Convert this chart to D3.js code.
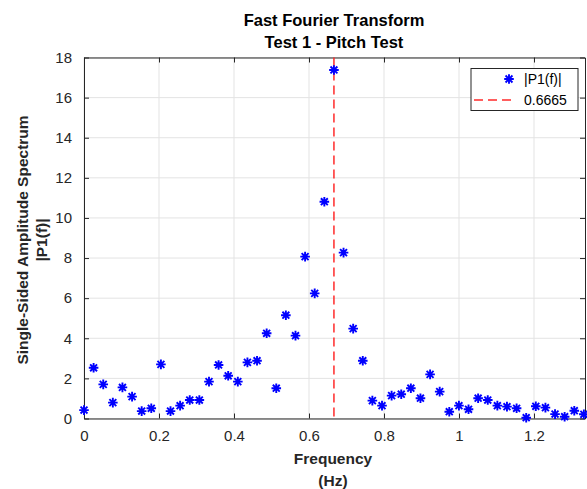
<!DOCTYPE html>
<html><head><meta charset="utf-8">
<script src="https://cdn.jsdelivr.net/npm/d3@7"></script>
<style>body{margin:0;background:#fff;} svg{display:block;font-family:"Liberation Sans",Arial,sans-serif;}</style>
</head><body>
<svg id="chart" width="587" height="489"></svg>
<script>
const freqs = [0,0.0256,0.0513,0.0769,0.1025,0.1282,0.1538,0.1794,0.2051,0.2307,0.2563,0.2820,0.3076,0.3333,0.3589,0.3845,0.4102,0.4358,0.4614,0.4871,0.5127,0.5383,0.5640,0.5896,0.6152,0.6409,0.6665,0.6921,0.7178,0.7434,0.7690,0.7947,0.8203,0.8460,0.8716,0.8972,0.9229,0.9485,0.9741,0.9998,1.0254,1.0510,1.0767,1.1023,1.1279,1.1536,1.1792,1.2048,1.2305,1.2561,1.2817,1.3074,1.3330];
const amps = [0.42,2.53,1.70,0.79,1.55,1.09,0.37,0.51,2.70,0.37,0.64,0.92,0.92,1.84,2.67,2.13,1.84,2.80,2.88,4.25,1.51,5.15,4.13,8.07,6.24,10.81,17.38,8.27,4.48,2.88,0.89,0.64,1.14,1.21,1.51,1.01,2.20,1.34,0.34,0.64,0.46,1.01,0.92,0.64,0.59,0.51,0.04,0.61,0.54,0.22,0.09,0.39,0.21];
const peakFreq = 0.6665;
const xTicks = [0,0.2,0.4,0.6,0.8,1,1.2];
const yTicks = [0,2,4,6,8,10,12,14,16,18];
const titleLines = ["Fast Fourier Transform","Test 1 - Pitch Test"];
const xLabelLines = ["Frequency","(Hz)"];
const yLabelLines = ["Single-Sided Amplitude Spectrum","|P1(f)|"];
const legendLabels = ["|P1(f)|","0.6665"];

const svg = d3.select("#chart");
const L=84, R=585, T=57.5, B=418.5;
const x = d3.scaleLinear().domain([0,1.336]).range([L,R]);
const y = d3.scaleLinear().domain([0,18]).range([B,T]);
const axisCol = "#262626";

// grid
const g = svg.append("g");
g.selectAll(".gx").data(xTicks).join("line")
  .attr("x1",d=>x(d)).attr("x2",d=>x(d)).attr("y1",T).attr("y2",B)
  .attr("stroke","#e3e3e3").attr("stroke-width",1);
g.selectAll(".gy").data(yTicks).join("line")
  .attr("x1",L).attr("x2",R).attr("y1",d=>y(d)).attr("y2",d=>y(d))
  .attr("stroke","#e3e3e3").attr("stroke-width",1);

// axes
const fmt = d=>String(d);
const ax = svg.append("g").attr("transform",`translate(0,${B})`)
  .call(d3.axisBottom(x).tickValues(xTicks).tickFormat(fmt).tickSizeInner(-5).tickSizeOuter(0).tickPadding(12));
const ay = svg.append("g").attr("transform",`translate(${L},0)`)
  .call(d3.axisLeft(y).tickValues(yTicks).tickFormat(fmt).tickSizeInner(-5).tickSizeOuter(0).tickPadding(12));
const axTop = svg.append("g").attr("transform",`translate(0,${T})`)
  .call(d3.axisTop(x).tickValues(xTicks).tickFormat("").tickSizeInner(-5).tickSizeOuter(0));
const ayR = svg.append("g").attr("transform",`translate(${R},0)`)
  .call(d3.axisRight(y).tickValues(yTicks).tickFormat("").tickSizeInner(-5).tickSizeOuter(0));
[ax,ay,axTop,ayR].forEach(a=>{
  a.select(".domain").attr("stroke",axisCol).attr("stroke-width",1);
  a.selectAll(".tick line").attr("stroke",axisCol);
  a.selectAll(".tick text").attr("fill",axisCol).attr("font-size",15).attr("font-family","Liberation Sans, Arial, sans-serif");
});

// peak line
svg.append("line").attr("x1",x(peakFreq)).attr("x2",x(peakFreq)).attr("y1",T).attr("y2",B)
  .attr("stroke","#ff2a2a").attr("stroke-width",1.5).attr("stroke-dasharray","9,5");

// asterisk markers
const r = 4.8;
const star = `M${-r},0L${r},0M0,${-r}L0,${r}M${-r*0.72},${-r*0.72}L${r*0.72},${r*0.72}M${-r*0.72},${r*0.72}L${r*0.72},${-r*0.72}`;
svg.append("g").selectAll("path").data(freqs.map((f,i)=>[f,amps[i]])).join("path")
  .attr("transform",d=>`translate(${x(d[0])},${y(d[1])})`)
  .attr("d",star).attr("stroke","#0000ff").attr("stroke-width",1.9).attr("fill","none");

// titles
svg.append("g").selectAll("text").data(titleLines).join("text")
  .attr("x",334).attr("y",(d,i)=>26+i*22).attr("text-anchor","middle")
  .attr("font-weight","bold").attr("font-size",16.5).attr("fill","#000").text(d=>d);
svg.append("g").selectAll("text").data(xLabelLines).join("text")
  .attr("x",333).attr("y",(d,i)=>464+i*22).attr("text-anchor","middle")
  .attr("font-weight","bold").attr("font-size",15.5).attr("fill",axisCol).text(d=>d);
svg.append("g").selectAll("text").data(yLabelLines).join("text")
  .attr("transform",(d,i)=>`translate(${28+i*19},240) rotate(-90)`).attr("text-anchor","middle")
  .attr("font-weight","bold").attr("font-size",15.5).attr("fill",axisCol).text(d=>d);

// legend
const lg = svg.append("g");
lg.append("rect").attr("x",471).attr("y",68.5).attr("width",107).attr("height",42)
  .attr("fill","#fff").attr("stroke",axisCol).attr("stroke-width",1);
lg.append("path").attr("transform","translate(509,79)").attr("d",star)
  .attr("stroke","#0000ff").attr("stroke-width",1.9).attr("fill","none");
lg.append("line").attr("x1",474).attr("x2",515).attr("y1",100).attr("y2",100)
  .attr("stroke","#ff2a2a").attr("stroke-width",1.5).attr("stroke-dasharray","9,5");
lg.selectAll("text").data(legendLabels).join("text")
  .attr("x",524).attr("y",(d,i)=>84+i*21).attr("font-size",14).attr("fill","#000").text(d=>d);
</script>
</body></html>
